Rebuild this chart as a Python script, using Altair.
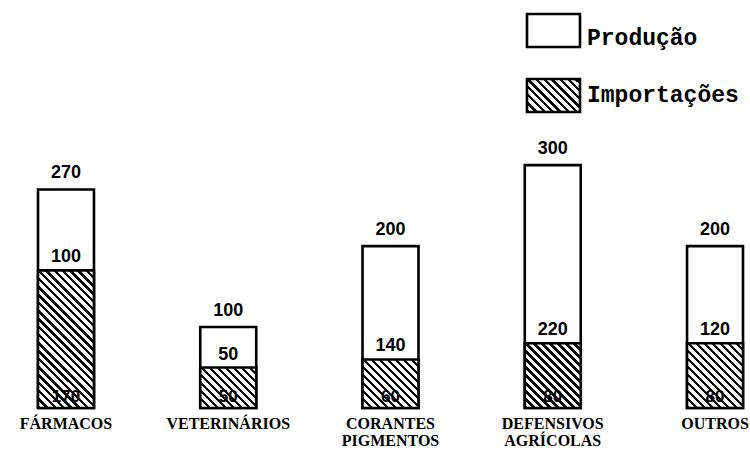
import math
import altair as alt
import pandas as pd

# ---- data ----
categories = ["FÁRMACOS", "VETERINÁRIOS", "CORANTES PIGMENTOS", "DEFENSIVOS AGRÍCOLAS", "OUTROS"]
producao = [100, 50, 140, 220, 120]
importacoes = [170, 50, 60, 80, 80]
series = ["Produção", "Importações"]

# ---- layout ----
W, H = 750, 408
BOTTOM_PAD = 43
Y_MAX = 504
X_RANGE = [38, 743]
PAD_INNER = 0.655
STROKE = 2.6

step = (X_RANGE[1] - X_RANGE[0]) / (len(categories) - PAD_INNER)
bw = step * (1 - PAD_INNER)
px_per_unit = H / Y_MAX


def hatch(w, h, period=8.0, ink=0.42):
    """Linear gradient giving 45-degree '\\' stripes inside a w x h box."""
    s_total = w + h
    k = (w + h) / (w * w + h * h)
    x2 = k * w
    y2 = 1 - k * h
    dp = period / s_total
    stops = []
    i = 0
    while i * dp < 1:
        o0 = i * dp
        o1 = min(o0 + ink * dp, 1)
        o2 = min((i + 1) * dp, 1)
        stops += [
            {"offset": round(o0, 5), "color": "black"},
            {"offset": round(o1, 5), "color": "black"},
            {"offset": round(o1, 5), "color": "white"},
            {"offset": round(o2, 5), "color": "white"},
        ]
        i += 1
    return {"gradient": "linear", "x1": 0, "y1": 1, "x2": round(x2, 5), "y2": round(y2, 5), "stops": stops}


df = pd.DataFrame({"cat": categories, "prod": producao, "imp": importacoes})

xenc = alt.X(
    "cat:N",
    sort=categories,
    scale=alt.Scale(range=X_RANGE, paddingInner=PAD_INNER, paddingOuter=0),
    axis=alt.Axis(
        title=None, domain=False, ticks=False, labelAngle=0,
        labelExpr="split(datum.label, ' ')",
        labelFont="Liberation Serif", labelFontWeight="bold", labelFontSize=16,
        labelLineHeight=17, labelPadding=7, labelColor="black", labelLimit=0,
        labelOverlap=False,
    ),
)
yscale = alt.Scale(domain=[0, Y_MAX], nice=False, zero=True)

base = alt.Chart(df).transform_calculate(total="datum.prod + datum.imp", zero="0").encode(x=xenc)

white_bars = base.mark_bar(fill="white", stroke="black", strokeWidth=STROKE).encode(
    y=alt.Y("total:Q", scale=yscale, axis=None)
)

hatch_layers = []
for c, v in zip(categories, importacoes):
    hatch_layers.append(
        base.transform_filter(alt.datum.cat == c)
        .mark_bar(fill=hatch(bw, v * px_per_unit), stroke="black", strokeWidth=STROKE)
        .encode(y=alt.Y("imp:Q", scale=yscale, axis=None))
    )

num_font = dict(font="Liberation Sans", fontWeight="bold", fontSize=18, color="black")
total_text = base.mark_text(baseline="bottom", dy=-7, **num_font).encode(
    y=alt.Y("total:Q", scale=yscale, axis=None), text=alt.Text("total:Q")
)
prod_text = base.mark_text(baseline="bottom", dy=-4, **num_font).encode(
    y=alt.Y("imp:Q", scale=yscale, axis=None), text=alt.Text("prod:Q")
)
imp_text = base.mark_text(baseline="bottom", dy=-2, font="Liberation Sans", fontWeight="bold",
                          fontSize=17, color="black").encode(
    y=alt.Y("zero:Q", scale=yscale, axis=None), text=alt.Text("imp:Q")
)

# ---- hand-drawn legend ----
leg_df = pd.DataFrame({"s": series})
leg0 = alt.Chart(leg_df).transform_filter(alt.datum.s == series[0])
leg1 = alt.Chart(leg_df).transform_filter(alt.datum.s == series[1])
leg_font = dict(font="Liberation Mono", fontWeight="bold", fontSize=23, color="black", align="left",
                baseline="alphabetic")
leg_box0 = leg0.mark_rect(fill="white", stroke="black", strokeWidth=STROKE).encode(
    x=alt.value(527), x2=alt.value(580), y=alt.value(14), y2=alt.value(47)
)
leg_box1 = leg1.mark_rect(fill=hatch(53, 33), stroke="black", strokeWidth=STROKE).encode(
    x=alt.value(527), x2=alt.value(580), y=alt.value(79), y2=alt.value(112)
)
leg_txt0 = leg0.mark_text(**leg_font).encode(x=alt.value(587), y=alt.value(45), text="s:N")
leg_txt1 = leg1.mark_text(**leg_font).encode(x=alt.value(587), y=alt.value(102), text="s:N")

chart = (
    alt.layer(white_bars, *hatch_layers, total_text, prod_text, imp_text,
              leg_box0, leg_box1, leg_txt0, leg_txt1)
    .properties(
        width=W, height=H,
        autosize=alt.AutoSizeParams(type="none"),
        padding={"left": 0, "top": 0, "right": 0, "bottom": BOTTOM_PAD},
        background="white",
    )
    .configure_view(stroke=None)
)

chart.save("out.html", embed_options={"renderer": "svg", "actions": False})
